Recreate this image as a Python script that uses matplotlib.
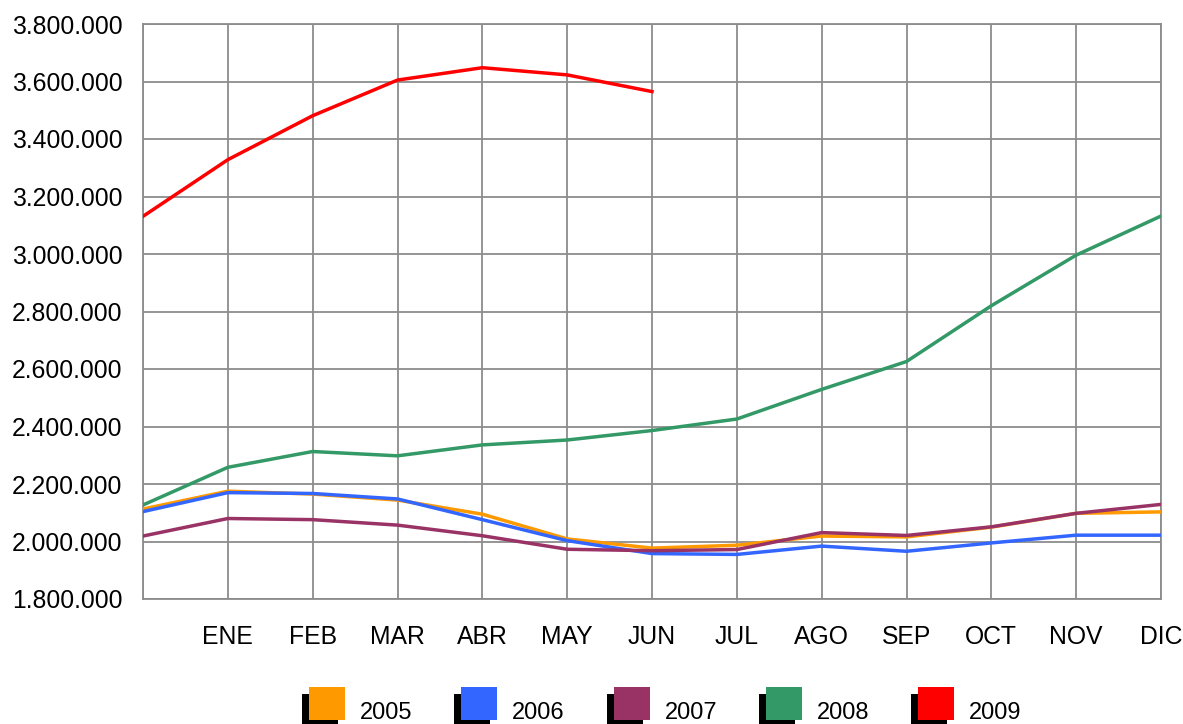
import matplotlib
matplotlib.use("Agg")
import matplotlib.pyplot as plt
from matplotlib.patches import Rectangle
from matplotlib.ticker import FuncFormatter, MultipleLocator

# ---- data ----
positions = ["", "ENE", "FEB", "MAR", "ABR", "MAY", "JUN", "JUL", "AGO", "SEP", "OCT", "NOV", "DIC"]
years = ["2005", "2006", "2007", "2008", "2009"]
colors = ["#ff9900", "#3366ff", "#993366", "#339966", "#ff0000"]

s2005 = [2113000, 2175000, 2165000, 2144000, 2095000, 2009000, 1977000, 1987000, 2019000, 2016000, 2050000, 2098000, 2103000]
s2006 = [2104000, 2170000, 2167000, 2148000, 2076000, 2003000, 1958000, 1955000, 1984000, 1966000, 1995000, 2022000, 2022000]
s2007 = [2019000, 2080000, 2076000, 2057000, 2020000, 1973000, 1968000, 1972000, 2031000, 2021000, 2051000, 2098000, 2129000]
s2008 = [2127000, 2258000, 2313000, 2298000, 2336000, 2353000, 2386000, 2426000, 2529000, 2626000, 2820000, 2996000, 3132000]
s2009 = [3131000, 3328000, 3481000, 3605000, 3648000, 3623000, 3565000]

series = [s2005, s2006, s2007, s2008, s2009]

plt.rcParams['font.family'] = ['Liberation Sans', 'DejaVu Sans']

W, H = 1183, 724
fig = plt.figure(figsize=(W / 100, H / 100), dpi=100)
ax = fig.add_axes([143 / W, 1 - 599 / H, (1161 - 143) / W, (599 - 24) / H])

grid_c = "#8c8c8c"
for vals, c in zip(series, colors):
    ax.plot(range(len(vals)), vals, color=c, lw=2.5, solid_joinstyle="round", zorder=3)

ax.set_xlim(0, len(positions) - 1)
ax.set_ylim(1800000, 3800000)
ax.set_xticks(range(len(positions)))
ax.set_xticklabels(positions)
ax.yaxis.set_major_locator(MultipleLocator(200000))
ax.yaxis.set_major_formatter(FuncFormatter(lambda v, p: f"{int(round(v)):,}".replace(",", ".")))
ax.grid(True, color=grid_c, lw=1.3, zorder=0)
for sp in ax.spines.values():
    sp.set_color(grid_c)
    sp.set_linewidth(1.3)
ax.tick_params(length=0, labelsize=17.8, colors="black")
ax.tick_params(axis="y", pad=15)
ax.tick_params(axis="x", pad=19)

# ---- legend with shadowed squares ----
def fx(px):
    return px / W

def fy(py):
    return 1 - py / H

x0 = 309
step = 152.3
for i, (lab, c) in enumerate(zip(years, colors)):
    sx = x0 + i * step
    fig.add_artist(Rectangle((fx(sx - 7), fy(727)), 36 / W, 33 / H,
                             transform=fig.transFigure, color="black", lw=0))
    fig.add_artist(Rectangle((fx(sx), fy(720)), 36 / W, 33 / H,
                             transform=fig.transFigure, color=c, lw=0))
    fig.text(fx(sx + 51), fy(719), lab, ha="left", va="baseline", fontsize=17,
             color="black")

fig.savefig("out.png", dpi=100, facecolor="white")
